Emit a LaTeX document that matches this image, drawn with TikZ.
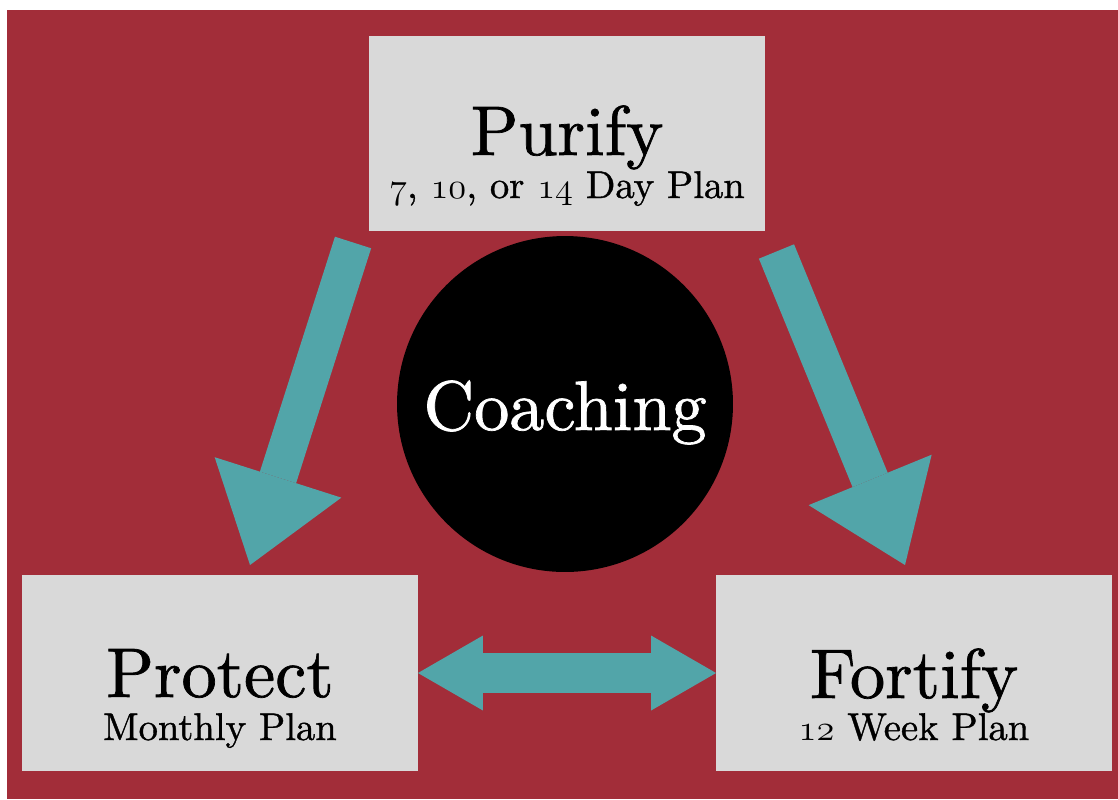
\documentclass[tikz,border=0pt]{standalone}
\usepackage{fontspec}
\setmainfont{lmroman10-regular.otf}[FakeBold=1]
\usepackage{tikz}
\usetikzlibrary{arrows.meta,calc}
\definecolor{bgred}{RGB}{162,45,57}
\definecolor{boxgray}{RGB}{217,217,217}
\definecolor{arrowteal}{RGB}{82,165,169}
\newcommand{\osfig}[1]{{\usefont{OML}{lmm}{b}{it}#1}}
\tikzset{
  mybox/.style={fill=boxgray,minimum width=7.92cm,minimum height=3.92cm,inner sep=0pt,outer sep=0pt},
  mytitle/.style={anchor=base,inner sep=0pt,font=\fontsize{40}{44}\selectfont},
  mysub/.style={anchor=base,inner sep=0pt,font=\fontsize{22}{26}\selectfont},
  myarrow/.style={arrowteal,line width=0.76cm,-{Triangle[length=1.84cm,width=2.66cm,line width=0pt]}},
  mydouble/.style={arrowteal,line width=0.8cm,{Triangle[length=1.3cm,width=1.5cm,line width=0pt]}-{Triangle[length=1.3cm,width=1.5cm,line width=0pt]}}
}

\begin{document}
\begin{tikzpicture}[x=0.02cm,y=-0.02cm]
        \useasboundingbox (0,0) rectangle (1118,799);
        \fill[bgred] (7,10) rectangle (1118,799);

        \node[mybox] (purify) at (567,133.5) {};
        \node[mybox] (protect) at (220,673) {};
        \node[mybox] (fortify) at (914,673) {};
        \node[circle,fill=black,minimum size=6.72cm,inner sep=0pt] (coach) at (565,404) {};

        \node[mytitle] (purifyT) at ($(purify)+(0,21.5)$) {Purify};
        \node[mysub] (purifyS) at ($(purify)+(0,64.5)$) {\osfig{7}, \osfig{10}, or \osfig{14} Day Plan};
        \node[mytitle] (protectT) at ($(protect)+(0,24)$) {Protect};
        \node[mysub] (protectS) at ($(protect)+(0,67)$) {Monthly Plan};
        \node[mytitle] (fortifyT) at ($(fortify)+(0,25)$) {Fortify};
        \node[mysub] (fortifyS) at ($(fortify)+(0,67)$) {\osfig{12} Week Plan};
        \node[mytitle,text=white] (coachT) at ($(coach)+(0,26)$) {Coaching};

        \draw[myarrow] ($(purify.south west)+(-16,11)$) -- ($(protect.north)+(30,-10)$);
        \draw[myarrow] ($(purify.south east)+(11.5,20)$) -- ($(fortify.north)+(-9,-10)$);
        \draw[mydouble] (protect) -- (fortify);
    \end{tikzpicture}
\end{document}
